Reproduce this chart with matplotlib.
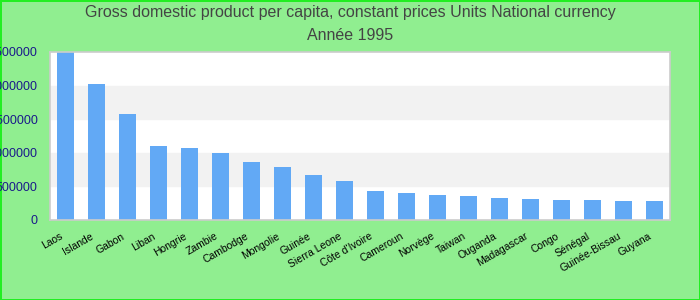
import matplotlib
matplotlib.use("Agg")
import matplotlib.pyplot as plt
import matplotlib.transforms as mtransforms
import numpy as np

# values (national currency, constant prices, 1995)
pays = ["Laos", "Islande", "Gabon", "Liban", "Hongrie", "Zambie", "Cambodge",
        "Mongolie", "Guinée", "Sierra Leone", "Côte d'Ivoire", "Cameroun",
        "Norvège", "Taiwan", "Ouganda", "Madagascar", "Congo", "Sénégal",
        "Guinée-Bissau", "Guyana"]
pib = [2500000, 2020000, 1575000, 1100000, 1070000, 995000, 862000,
       787000, 668000, 579000, 431000, 401000, 371000, 356000, 327000,
       312000, 297000, 297000, 282000, 282000]
yticks = [0, 500000, 1000000, 1500000, 2000000, 2500000]

plt.rcParams['font.family'] = ['Liberation Sans', 'DejaVu Sans']

fig = plt.figure(figsize=(7, 3), dpi=100)
fig.patch.set_facecolor('#90ee90')
fig.patch.set_edgecolor('#22ee22')
fig.patch.set_linewidth(2)

ax = fig.add_axes([50 / 700, 1 - 220 / 300, 620 / 700, 168 / 300])
ax.set_facecolor('white')

# alternating grey bands
for i in range(len(yticks) - 1):
    if i % 2 == 1:
        ax.axhspan(yticks[i], yticks[i + 1], color='#f2f2f2', zorder=0)

x = np.arange(len(pays))
ax.bar(x, pib, width=0.55, color='#62a9f5', zorder=2)

ax.set_xlim(-0.5, len(pays) - 0.5)
ax.set_ylim(0, 2500000)
ax.set_yticks(yticks)
ax.set_yticklabels([str(v) for v in yticks], color='#1a1a8a', fontsize=9)
ax.set_xticks(x)
ax.set_xticklabels(pays, rotation=30, ha='right', rotation_mode='anchor', fontsize=7.5)
ax.tick_params(length=0)
ax.tick_params(axis='y', pad=9)
ax.tick_params(axis='x', pad=8)

# nudge the category labels a bit to the left
shift = mtransforms.ScaledTranslation(-6 / 100, 0, fig.dpi_scale_trans)
for lab in ax.get_xticklabels():
    lab.set_transform(lab.get_transform() + shift)

for s in ax.spines.values():
    s.set_color('#cccccc')
    s.set_linewidth(1.2)

fig.text(0.5, 1 - 13 / 300, "Gross domestic product per capita, constant prices Units National currency",
         ha='center', va='center', fontsize=11.5, color='#444444')
fig.text(0.5, 1 - 36 / 300, "Année 1995", ha='center', va='center', fontsize=11.5, color='#444444')

fig.savefig('out.png', dpi=100, facecolor=fig.get_facecolor(), edgecolor=fig.get_edgecolor())
